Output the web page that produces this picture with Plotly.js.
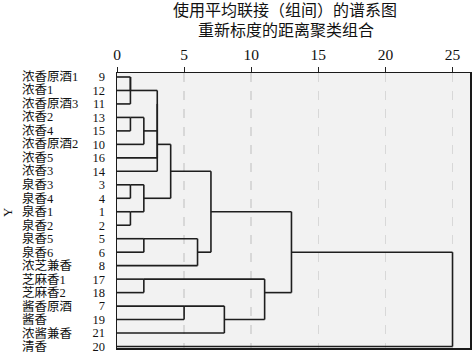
<!DOCTYPE html>
<html>
<head>
<meta charset="utf-8">
<script src="https://cdn.plot.ly/plotly-3.0.1.min.js"></script>
<style>html,body{margin:0;padding:0;background:#fff;}#chart{width:472px;height:355px;}</style>
</head>
<body>
<div id="chart"></div>
<script>
// Leaf order (top to bottom) and their names
var leafIds = [9, 12, 11, 13, 15, 10, 16, 14, 3, 4, 1, 2, 5, 6, 8, 17, 18, 7, 19, 21, 20];
var leafNames = ['浓香原酒1', '浓香1', '浓香原酒3', '浓香2', '浓香4', '浓香原酒2', '浓香5', '浓香3',
  '泉香3', '泉香4', '泉香1', '泉香2', '泉香5', '泉香6', '浓芝兼香', '芝麻香1', '芝麻香2',
  '酱香原酒', '酱香', '浓酱兼香', '清香'];
// Agglomeration schedule (rescaled distance 0-25); numbers = cases, 'cK' = cluster from merge K
var mergeA = [9, 'c0', 13, 'c2', 3, 1, 'c4', 5, 'c1', 'c8', 'c9', 'c10', 7, 'c7', 'c11', 17, 'c12', 'c15', 'c14', 'c18'];
var mergeB = [12, 11, 15, 10, 4, 2, 'c5', 6, 'c3', 16, 14, 'c6', 19, 8, 'c13', 18, 21, 'c16', 'c17', 20];
var mergeDist = [1, 1, 1, 2, 1, 1, 2, 2, 3, 3, 3, 4, 5, 6, 7, 2, 8, 11, 13, 25];
var xTicks = [0, 5, 10, 15, 20, 25];
var titleLines = ['使用平均联接（组间）的谱系图', '重新标度的距离聚类组合'];
var yLabel = 'Y';

// Geometry
var W = 472, H = 355, ml = 117, mr = 1.5, mt = 73, mb = 6.5;
var plotW = W - ml - mr, plotH = H - mt - mb;
function paperX(px) { return (px - ml) / plotW; }
function paperY(py) { return (H - mb - py) / plotH; }

// Build dendrogram segments
var nodeRow = {}, nodeDist = {};
leafIds.forEach(function (id, i) { nodeRow[id] = i; nodeDist[id] = 0; });
var xs = [], ys = [];
function seg(x0, y0, x1, y1) { xs.push(x0, x1, null); ys.push(y0, y1, null); }
for (var k = 0; k < mergeA.length; k++) {
  var a = mergeA[k], b = mergeB[k], d = mergeDist[k];
  var ra = nodeRow[a], rb = nodeRow[b];
  seg(nodeDist[a], ra, d, ra);
  seg(nodeDist[b], rb, d, rb);
  seg(d, ra, d, rb);
  var id = 'c' + k;
  nodeRow[id] = Math.floor((ra + rb) / 2);
  nodeDist[id] = d;
}

var serif = 'Liberation Serif, Noto Sans CJK SC, serif';
var annotations = [];
leafNames.forEach(function (n, i) {
  annotations.push({ text: n, xref: 'paper', yref: 'y', x: paperX(20), y: i, xanchor: 'left', yanchor: 'middle',
    showarrow: false, font: { family: serif, size: 12.5, color: '#111' } });
});
annotations.push({ text: yLabel, xref: 'paper', yref: 'y', x: paperX(8), y: 10, xanchor: 'center', yanchor: 'middle',
  textangle: -90, showarrow: false, font: { family: serif, size: 13, color: '#111' } });
annotations.push({ text: titleLines[0], xref: 'paper', yref: 'paper', x: paperX(285), y: paperY(10), xanchor: 'center', yanchor: 'middle',
  showarrow: false, font: { family: serif, size: 16, color: '#111' } });
annotations.push({ text: titleLines[1], xref: 'paper', yref: 'paper', x: paperX(286), y: paperY(30), xanchor: 'center', yanchor: 'middle',
  showarrow: false, font: { family: serif, size: 16, color: '#111' } });

var trace = { x: xs, y: ys, type: 'scatter', mode: 'lines', line: { color: '#1e1e1e', width: 1.6 }, hoverinfo: 'skip', showlegend: false };

var layout = {
  width: W, height: H,
  margin: { l: ml, r: mr, t: mt, b: mb, pad: 0 },
  paper_bgcolor: '#ffffff', plot_bgcolor: '#f2f2f2',
  xaxis: { side: 'top', range: [0, plotW / 13.44], tickvals: xTicks, ticks: 'outside', ticklen: 5, tickcolor: '#222',
    tickfont: { family: serif, size: 15.5, color: '#111' }, showline: true, mirror: true, linecolor: '#1a1a1a', linewidth: 1.5,
    showgrid: true, gridcolor: '#d8d8d8', griddash: 'dash', gridwidth: 1.5, zeroline: false, fixedrange: true },
  yaxis: { range: [20.11, -0.296], tickvals: leafIds.map(function (v, i) { return i; }), ticktext: leafIds.map(String),
    ticks: '', ticklabelstandoff: 8, tickfont: { family: serif, size: 12.5, color: '#111' }, showline: true, mirror: true,
    linecolor: '#1a1a1a', linewidth: 1.5, showgrid: false, zeroline: false, fixedrange: true },
  annotations: annotations
};
Plotly.newPlot('chart', [trace], layout, { staticPlot: true, displayModeBar: false });
</script>
</body>
</html>
